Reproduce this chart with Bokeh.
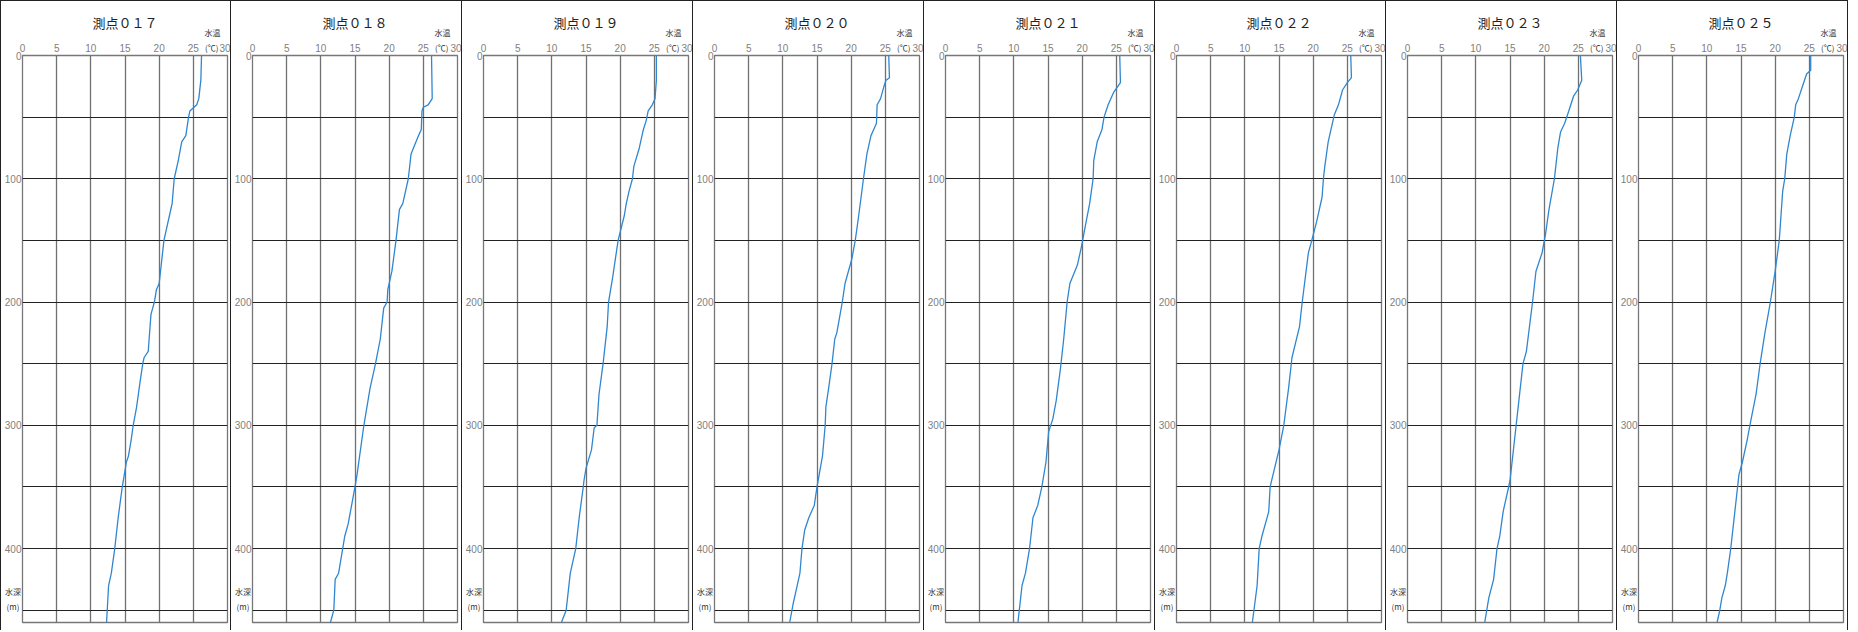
from bokeh.plotting import figure
from bokeh.layouts import row
from bokeh.models import Range1d, FixedTicker
from bokeh.core.properties import value
from bokeh.embed import file_html
from bokeh.resources import INLINE

# ---- data: depth (m) and water temperature (deg C) for each station ----
stations = ["測点０１７", "測点０１８", "測点０１９", "測点０２０",
            "測点０２１", "測点０２２", "測点０２３", "測点０２５"]

depth_017 = [0, 20, 35, 40, 45, 50, 65, 70, 85, 100, 120, 130, 145, 150, 170, 185, 190, 200, 210, 240,
             245, 250, 265, 285, 300, 312, 325, 330, 340, 350, 375, 400, 420, 430, 450, 460]
temp_017 = [26.2, 26.1, 25.8, 25.5, 24.5, 24.3, 23.9, 23.3, 22.8, 22.2, 21.9, 21.5, 20.9, 20.7, 20.3,
            20.0, 19.6, 19.3, 18.8, 18.4, 17.8, 17.6, 17.2, 16.7, 16.2, 15.9, 15.5, 15.2, 14.9, 14.6,
            14.0, 13.5, 13.0, 12.6, 12.4, 12.3]

depth_018 = [0, 35, 40, 42, 45, 60, 65, 80, 100, 120, 125, 150, 175, 190, 200, 205, 230, 250, 270, 300,
             340, 350, 380, 390, 400, 420, 425, 450, 460]
temp_018 = [26.2, 26.3, 25.7, 25.0, 24.8, 24.7, 24.3, 23.2, 22.8, 22.0, 21.5, 21.0, 20.4, 19.8, 19.7,
            19.2, 18.7, 18.0, 17.2, 16.3, 15.3, 15.0, 14.0, 13.5, 13.2, 12.6, 12.1, 11.9, 11.4]

depth_019 = [0, 20, 35, 40, 45, 53, 60, 75, 90, 100, 110, 120, 130, 150, 165, 180, 200, 220, 250, 275,
             300, 302, 320, 335, 345, 350, 375, 400, 420, 450, 460]
temp_019 = [25.3, 25.3, 25.1, 24.7, 24.1, 23.8, 23.4, 22.8, 22.0, 21.8, 21.3, 20.9, 20.6, 19.7, 19.3,
            18.9, 18.3, 18.1, 17.5, 16.9, 16.6, 16.2, 15.8, 15.0, 14.7, 14.6, 14.0, 13.5, 12.7, 12.1, 11.4]

depth_020 = [0, 18, 20, 25, 35, 40, 55, 60, 65, 80, 100, 130, 150, 165, 175, 185, 200, 225, 230, 250,
             270, 285, 300, 325, 350, 365, 375, 385, 400, 420, 430, 445, 460]
temp_020 = [25.5, 25.6, 25.1, 24.8, 24.3, 23.8, 23.7, 23.3, 22.9, 22.3, 21.8, 21.1, 20.6, 20.1, 19.6,
            19.1, 18.7, 17.9, 17.6, 17.2, 16.7, 16.3, 16.2, 15.8, 15.0, 14.6, 13.8, 13.2, 12.8, 12.5,
            12.1, 11.5, 11.0]

depth_021 = [0, 22, 30, 40, 50, 60, 70, 85, 100, 120, 140, 155, 170, 185, 200, 230, 255, 280, 295, 305,
             330, 350, 365, 375, 400, 420, 430, 450, 460]
temp_021 = [25.5, 25.6, 24.6, 23.8, 23.2, 22.9, 22.2, 21.7, 21.6, 21.1, 20.4, 19.9, 19.3, 18.2, 17.8,
            17.3, 16.8, 16.2, 15.7, 15.1, 14.7, 14.1, 13.5, 12.8, 12.3, 11.7, 11.2, 10.8, 10.6]

depth_022 = [0, 18, 22, 28, 40, 48, 70, 90, 100, 115, 135, 150, 160, 200, 220, 245, 270, 300, 320, 350,
             370, 390, 400, 430, 460]
temp_022 = [25.5, 25.6, 25.0, 24.3, 23.7, 23.1, 22.2, 21.7, 21.5, 21.3, 20.5, 19.8, 19.3, 18.4, 18.0,
            16.9, 16.4, 15.7, 15.0, 13.7, 13.5, 12.5, 12.1, 11.8, 11.1]

depth_023 = [0, 20, 28, 33, 45, 55, 62, 75, 100, 125, 145, 160, 175, 200, 240, 250, 300, 345, 370, 390,
             400, 425, 440, 450, 460]
temp_023 = [25.3, 25.5, 24.9, 24.3, 23.6, 23.0, 22.4, 22.0, 21.5, 20.7, 20.2, 19.7, 18.8, 18.3, 17.4,
            16.9, 15.9, 15.0, 14.0, 13.5, 13.1, 12.6, 11.9, 11.6, 11.3]

depth_025 = [0, 12, 15, 25, 35, 40, 50, 65, 80, 100, 110, 150, 175, 200, 225, 250, 275, 300, 312, 330,
             340, 370, 400, 420, 430, 440, 450, 460]
temp_025 = [25.2, 25.2, 24.6, 24.0, 23.4, 23.0, 22.8, 22.2, 21.7, 21.4, 21.1, 20.6, 20.0, 19.3, 18.5,
            17.8, 17.2, 16.3, 15.9, 15.2, 14.7, 14.1, 13.5, 13.0, 12.7, 12.2, 11.9, 11.5]

depths = [depth_017, depth_018, depth_019, depth_020, depth_021, depth_022, depth_023, depth_025]
temps = [temp_017, temp_018, temp_019, temp_020, temp_021, temp_022, temp_023, temp_025]

x_ticks = [0, 5, 10, 15, 20, 25, 30]
y_label_ticks = [0, 100, 200, 300, 400]
y_grid_ticks = [0, 50, 100, 150, 200, 250, 300, 350, 400, 450]
x_max = 30
depth_max = 460

# unit labels (text, temperature position, depth position)
unit_text = ["水温", "(℃)", "水深", "(m)"]
unit_temp = [27.8, 27.7, -1.4, -1.4]
unit_depth = [-19, -6.5, 435, 447]

TICK_FONT = "Liberation Sans"
JP = "Noto Sans CJK JP"

figs = []
for i, (name, d, t) in enumerate(zip(stations, depths, temps)):
    border = "1px solid #222"
    styles = {"border-top": border, "border-right": border}
    if i == 0:
        styles["border-left"] = border
    p = figure(width=231, height=630, output_backend="svg", toolbar_location=None,
               x_range=Range1d(0, x_max), y_range=Range1d(depth_max, 0),
               x_axis_location="above", title=name,
               min_border_left=19, min_border_right=5, min_border_top=54, min_border_bottom=9,
               styles=styles)
    p.title.align = "center"
    p.title.text_font = JP
    p.title.text_font_size = "13px"
    p.title.text_font_style = "normal"
    p.title.text_color = "#222222"
    p.title.standoff = 4

    # axes
    p.xaxis.ticker = FixedTicker(ticks=x_ticks)
    p.yaxis.ticker = FixedTicker(ticks=y_label_ticks)
    for ax in (p.xaxis[0], p.yaxis[0]):
        ax.axis_line_color = None
        ax.major_tick_line_color = None
        ax.minor_tick_line_color = None
        ax.major_tick_out = 0
        ax.major_tick_in = 0
        ax.minor_tick_out = 0
        ax.minor_tick_in = 0
        ax.major_label_text_font = TICK_FONT
        ax.major_label_text_font_size = "10px"
        ax.major_label_text_color = "#808080"
    p.xaxis.major_label_standoff = 4
    p.yaxis.major_label_standoff = 1
    # tiny blank axis label: small gap between the tick labels and the title
    p.xaxis.axis_label = " "
    p.xaxis.axis_label_text_font_size = "1px"
    p.xaxis.axis_label_standoff = 3

    # grids
    p.xgrid.ticker = FixedTicker(ticks=x_ticks)
    p.xgrid.grid_line_color = "#707070"
    p.xgrid.grid_line_width = 1.3
    p.ygrid.ticker = FixedTicker(ticks=y_grid_ticks)
    p.ygrid.grid_line_color = "#222222"
    p.ygrid.grid_line_width = 1
    p.outline_line_color = "#777777"
    p.outline_line_width = 1.3
    p.background_fill_color = "white"
    p.border_fill_color = "white"

    p.line(t, d, line_color="#2f86d1", line_width=1.3)

    p.text(x=unit_temp, y=unit_depth, text=unit_text, level="overlay",
           text_font=value(JP), text_font_size="8px", text_color="#333333",
           text_align="center", text_baseline="middle")
    figs.append(p)

layout = row(figs, spacing=0)
open("out.html", "w").write(file_html(layout, INLINE))
